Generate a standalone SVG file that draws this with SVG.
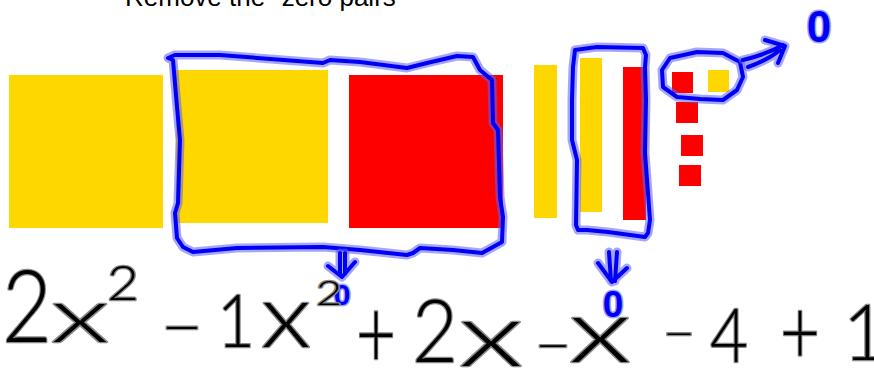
<svg xmlns="http://www.w3.org/2000/svg" xmlns:xlink="http://www.w3.org/1999/xlink" width="874" height="372" viewBox="0 0 874 372">
<style>
.y{fill:#FFD700}
.r{fill:#FF0000}
.halo{fill:none;stroke:#5c5cff;stroke-opacity:0.55;stroke-width:9;stroke-linecap:round;stroke-linejoin:round}
.ink{fill:none;stroke:#0000f5;stroke-width:4;stroke-linecap:round;stroke-linejoin:round}
.title{font-family:"Liberation Sans",Arial,sans-serif;font-size:26px;fill:#000}
.m{font-family:Lato,"Liberation Sans",Arial,sans-serif;font-weight:300;fill:#000;stroke:#8a8a8a;stroke-width:2.5;stroke-linejoin:round;paint-order:stroke;text-anchor:middle}
.b0{font-family:"Liberation Sans",Arial,sans-serif;font-weight:bold;fill:#0000f5;stroke:#7a7aff;stroke-opacity:0.7;stroke-width:3;stroke-linejoin:round;paint-order:stroke;text-anchor:middle}
</style>
<defs>
<path id="loopBig" d="M168,58 L175,55 L220,55 L323,63 L330,60 L360,62 L407,68 L427,63 L457,56 L473,57 L480,70 L492,80 L493,123 L498,130 L500,197 L503,217 L502,242 L493,247 L482,253 L453,250 L420,248 L413,253 L407,255 L360,250 L323,247 L237,248 L193,252 L183,247 L177,238 L175,213 L178,203 L180,140 L177,107 L173,60 Z"/>
<path id="loopBar" d="M575,50 L597,47 L643,48 L646,55 L645,67 L646,100 L645,153 L648,193 L650,220 L648,233 L645,237 L608,232 L587,230 L578,230 L576,225 L577,160 L572,140 L572,100 L573,67 Z"/>
<path id="loopOval" d="M670,58 L697,52 L723,53 L740,62 L743,77 L737,90 L723,100 L700,99 L677,97 L663,87 L662,70 Z"/>
<path id="arrBig" d="M340,253 L340,274 M345,253 L345,274 M328,266 L342,277 L355,262"/>
<path id="arrBar" d="M609,252 L611,281 M617,252 L615,281 M598,263 L612,282 L627,268"/>
<path id="arrOval" d="M743,60 Q765,55 783,45 M748,67 Q768,60 780,50 M765,40 L785,46 L778,63"/>
</defs>

<text class="title" x="125" y="6">Remove the "zero pairs"</text>

<g id="tile-x2-yellow-1"><rect class="y" x="9" y="75" width="154" height="153"/></g>
<g id="tile-x2-yellow-2"><rect class="y" x="176" y="70" width="152" height="153"/></g>
<g id="tile-x2-red"><rect class="r" x="349" y="75" width="154" height="153"/></g>
<g id="tile-x-yellow-1"><rect class="y" x="534" y="65" width="23" height="153"/></g>
<g id="tile-x-yellow-2"><rect class="y" x="580" y="58" width="22" height="154"/></g>
<g id="tile-x-red"><rect class="r" x="623" y="67" width="23" height="153"/></g>
<g id="tile-1-red-1"><rect class="r" x="672" y="72" width="21" height="21"/></g>
<g id="tile-1-red-2"><rect class="r" x="676" y="102" width="22" height="21"/></g>
<g id="tile-1-red-3"><rect class="r" x="681" y="135" width="22" height="21"/></g>
<g id="tile-1-red-4"><rect class="r" x="679" y="165" width="22" height="21"/></g>
<g id="tile-1-yellow"><rect class="y" x="708" y="70" width="21" height="22"/></g>

<g id="zero-pair-loops">
<use xlink:href="#loopBig" class="halo"/><use xlink:href="#loopBig" class="ink"/>
<use xlink:href="#loopBar" class="halo"/><use xlink:href="#loopBar" class="ink"/>
<use xlink:href="#loopOval" class="halo"/><use xlink:href="#loopOval" class="ink"/>
</g>

<g id="connectors">
<use xlink:href="#arrBig" class="halo"/><use xlink:href="#arrBig" class="ink"/>
<use xlink:href="#arrBar" class="halo"/><use xlink:href="#arrBar" class="ink"/>
<use xlink:href="#arrOval" class="halo"/><use xlink:href="#arrOval" class="ink"/>
</g>

<g id="zeros">
<text class="b0" x="819" y="42" font-size="44">0</text>
<text class="b0" x="342" y="305" font-size="30">0</text>
<text class="b0" x="613" y="317" font-size="37">0</text>
</g>

<g id="expression">
<text class="m" x="27" y="342" font-size="100" textLength="50" lengthAdjust="spacingAndGlyphs">2</text>
<text class="m" x="80" y="342" font-size="76" textLength="58" lengthAdjust="spacingAndGlyphs">x</text>
<text class="m" x="123" y="300" font-size="48" textLength="32" lengthAdjust="spacingAndGlyphs">2</text>
<text class="m" x="182" y="348" font-size="60" textLength="42" lengthAdjust="spacingAndGlyphs">−</text>
<text class="m" x="236" y="347" font-size="72" textLength="38" lengthAdjust="spacingAndGlyphs">1</text>
<text class="m" x="286" y="347" font-size="88" textLength="50" lengthAdjust="spacingAndGlyphs">x</text>
<text class="m" x="329" y="305" font-size="34" textLength="26" lengthAdjust="spacingAndGlyphs">2</text>
<text class="m" x="376" y="368" font-size="96" textLength="40" lengthAdjust="spacingAndGlyphs">+</text>
<text class="m" x="435" y="362" font-size="86" textLength="46" lengthAdjust="spacingAndGlyphs">2</text>
<text class="m" x="491" y="366" font-size="88" textLength="64" lengthAdjust="spacingAndGlyphs">x</text>
<text class="m" x="553" y="363" font-size="50" textLength="36" lengthAdjust="spacingAndGlyphs">−</text>
<text class="m" x="600" y="362" font-size="88" textLength="62" lengthAdjust="spacingAndGlyphs">x</text>
<text class="m" x="679" y="349" font-size="45" textLength="32" lengthAdjust="spacingAndGlyphs">−</text>
<text class="m" x="729" y="362" font-size="74" textLength="38" lengthAdjust="spacingAndGlyphs">4</text>
<text class="m" x="800" y="364" font-size="90" textLength="40" lengthAdjust="spacingAndGlyphs">+</text>
<text class="m" x="865" y="360" font-size="76">1</text>
</g>
</svg>
